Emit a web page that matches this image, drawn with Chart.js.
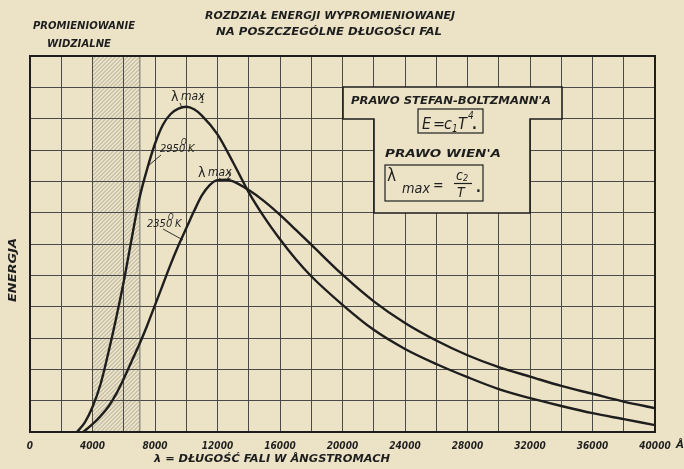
<!DOCTYPE html>
<html>
<head>
<meta charset="utf-8">
<script src="https://cdn.jsdelivr.net/npm/chart.js@4.4.0/dist/chart.umd.min.js"></script>
<style>
  html, body { margin: 0; padding: 0; background: #ebe2c6; }
</style>
</head>
<body>
<canvas id="chart" width="684" height="469"></canvas>
<script>
// curve for 2950°K (the taller one)
const wavelength2950 = [3000, 3500, 4000, 4500, 5000, 5500, 6000, 6500, 7000, 7500, 8000, 8500, 9000, 9500, 10000, 10500, 11000, 12000, 13000, 14000, 15000, 16000, 17000, 18000, 20000, 22000, 24000, 26000, 28000, 30000, 32000, 34000, 36000, 38000, 40000];
const energy2950     = [0, 0.3, 0.8, 1.5, 2.5, 3.6, 4.8, 6.15, 7.45, 8.4, 9.2, 9.8, 10.15, 10.32, 10.38, 10.3, 10.1, 9.5, 8.6, 7.65, 6.85, 6.15, 5.52, 4.97, 4.06, 3.26, 2.65, 2.17, 1.75, 1.37, 1.08, 0.83, 0.6, 0.41, 0.22];

// curve for 2350°K (the flatter one)
const wavelength2350 = [3400, 4000, 4500, 5000, 5500, 6000, 6500, 7000, 7500, 8000, 8500, 9000, 9500, 10000, 10500, 11000, 11500, 12000, 12500, 13000, 14000, 15000, 16000, 17000, 18000, 20000, 22000, 24000, 26000, 28000, 30000, 32000, 34000, 36000, 38000, 40000];
const energy2350     = [0, 0.25, 0.5, 0.8, 1.2, 1.7, 2.25, 2.8, 3.4, 4.05, 4.7, 5.35, 5.95, 6.5, 7.05, 7.55, 7.88, 8.04, 8.05, 8.0, 7.72, 7.36, 6.93, 6.46, 5.98, 5.02, 4.17, 3.48, 2.92, 2.45, 2.07, 1.77, 1.47, 1.22, 0.97, 0.76];

// visible light band (Å)
const visibleBand = [4000, 7000];
const xLabelEvery = 4000;

const PAPER = '#ece3c7';
const INK = '#1e1e1e';
const FONT = '"Liberation Sans Narrow", "DejaVu Sans Condensed", "DejaVu Sans", sans-serif';

const toPoints = (xs, ys) => xs.map((x, i) => ({ x: x, y: ys[i] }));

// squeeze text to a given width so hand lettering lines up
function fitText(ctx, text, cx, y, width) {
  const w = ctx.measureText(text).width;
  ctx.save();
  ctx.translate(cx, y);
  ctx.scale(width / w, 1);
  ctx.textAlign = 'center';
  ctx.fillText(text, 0, 0);
  ctx.restore();
}

const paperPlugin = {
  id: 'paper',
  beforeDraw(chart) {
    const ctx = chart.ctx;
    ctx.save();
    ctx.fillStyle = PAPER;
    ctx.fillRect(0, 0, chart.width, chart.height);
    ctx.restore();
  }
};

const hatchPlugin = {
  id: 'hatch',
  beforeDatasetsDraw(chart) {
    const { ctx, chartArea: a, scales: { x } } = chart;
    const x1 = x.getPixelForValue(visibleBand[0]);
    const x2 = x.getPixelForValue(visibleBand[1]);
    const h = a.bottom - a.top;
    ctx.save();
    ctx.beginPath();
    ctx.rect(x1, a.top, x2 - x1, h);
    ctx.clip();
    ctx.strokeStyle = 'rgba(70,70,70,0.5)';
    ctx.lineWidth = 0.8;
    ctx.beginPath();
    for (let k = -h; k < x2 - x1 + 4; k += 4) {
      ctx.moveTo(x1 + k, a.bottom);
      ctx.lineTo(x1 + k + h, a.top);
    }
    ctx.stroke();
    ctx.restore();
    ctx.save();
    ctx.strokeStyle = '#6a6a6a';
    ctx.lineWidth = 1;
    ctx.beginPath();
    ctx.moveTo(x2 + 0.5, a.top);
    ctx.lineTo(x2 + 0.5, a.bottom);
    ctx.stroke();
    ctx.restore();
  }
};

const notesPlugin = {
  id: 'notes',
  afterDatasetsDraw(chart) {
    const { ctx, chartArea: a } = chart;
    ctx.save();

    // frame
    ctx.strokeStyle = INK;
    ctx.lineWidth = 2;
    ctx.strokeRect(a.left, a.top, a.right - a.left, a.bottom - a.top);

    // T-shaped box with the laws
    ctx.beginPath();
    ctx.moveTo(343, 87);
    ctx.lineTo(562, 87);
    ctx.lineTo(562, 119);
    ctx.lineTo(530, 119);
    ctx.lineTo(530, 213);
    ctx.lineTo(374, 213);
    ctx.lineTo(374, 119);
    ctx.lineTo(343, 119);
    ctx.closePath();
    ctx.fillStyle = PAPER;
    ctx.fill();
    ctx.lineWidth = 1.6;
    ctx.stroke();

    ctx.fillStyle = INK;
    ctx.font = 'italic bold 11px ' + FONT;
    fitText(ctx, "PRAWO STEFAN-BOLTZMANN'A", 451, 104, 200);
    fitText(ctx, "PRAWO WIEN'A", 443, 157, 116);

    ctx.lineWidth = 1.2;
    ctx.strokeRect(418, 109, 65, 24);
    ctx.strokeRect(385, 165, 98, 36);

    ctx.textAlign = 'left';
    ctx.font = 'italic 16px ' + FONT;
    ctx.fillText('E', 422, 129);
    ctx.fillText('=', 433, 129);
    ctx.fillText('c', 444, 129);
    ctx.font = 'italic 10px ' + FONT;
    ctx.fillText('1', 452, 132);
    ctx.font = 'italic 16px ' + FONT;
    ctx.fillText('T', 458, 129);
    ctx.font = 'italic 10px ' + FONT;
    ctx.fillText('4', 468, 119);
    ctx.font = 'bold 14px ' + FONT;
    ctx.fillText('.', 472, 129);

    ctx.font = '17px ' + FONT;
    ctx.fillText('λ', 387, 181);
    ctx.font = 'italic 14px ' + FONT;
    fitText(ctx, 'max', 416, 193, 28);
    ctx.textAlign = 'left';
    ctx.fillText('=', 433, 190);
    ctx.fillText('c', 456, 180);
    ctx.font = 'italic 9px ' + FONT;
    ctx.fillText('2', 463, 181);
    ctx.font = 'italic 14px ' + FONT;
    ctx.fillText('T', 457, 197);
    ctx.font = 'bold 14px ' + FONT;
    ctx.fillText('.', 476, 192);
    ctx.lineWidth = 1.2;
    ctx.beginPath();
    ctx.moveTo(454, 183.5);
    ctx.lineTo(472, 183.5);
    ctx.stroke();

    // curve notes
    ctx.font = '14px ' + FONT;
    ctx.fillText('λ', 171, 101);
    ctx.font = 'italic 12px ' + FONT;
    ctx.fillText('max', 181, 100);
    ctx.font = 'italic 8px ' + FONT;
    ctx.fillText('1', 200, 103);
    ctx.font = '14px ' + FONT;
    ctx.fillText('λ', 198, 177);
    ctx.font = 'italic 12px ' + FONT;
    ctx.fillText('max', 208, 176);
    ctx.font = 'italic 8px ' + FONT;
    ctx.fillText('2', 227, 179);

    ctx.font = 'italic 11px ' + FONT;
    ctx.fillText('2950', 160, 152);
    ctx.fillText('2350', 147, 227);
    ctx.font = 'italic 8px ' + FONT;
    ctx.fillText('O', 181, 145);
    ctx.fillText('O', 168, 220);
    ctx.font = 'italic 11px ' + FONT;
    ctx.fillText('K', 188, 152);
    ctx.fillText('K', 175, 227);

    ctx.lineWidth = 0.9;
    ctx.beginPath();
    ctx.moveTo(161, 155); ctx.lineTo(148, 166);
    ctx.moveTo(163, 229); ctx.lineTo(183, 240);
    ctx.moveTo(180, 103); ctx.lineTo(182, 108);
    ctx.moveTo(219, 178); ctx.lineTo(223, 181);
    ctx.stroke();

    // titles
    ctx.font = 'italic bold 11px ' + FONT;
    fitText(ctx, 'ROZDZIAŁ ENERGJI WYPROMIENIOWANEJ', 330, 19, 250);
    fitText(ctx, 'NA POSZCZEGÓLNE DŁUGOŚCI FAL', 329, 35, 226);
    ctx.font = 'italic bold 10px ' + FONT;
    fitText(ctx, 'PROMIENIOWANIE', 84, 29, 102);
    fitText(ctx, 'WIDZIALNE', 79, 47, 64);

    // axis titles
    ctx.font = 'italic bold 11px ' + FONT;
    fitText(ctx, 'λ = DŁUGOŚĆ FALI W ÅNGSTROMACH', 272, 462, 236);
    ctx.font = 'italic bold 10px ' + FONT;
    fitText(ctx, 'Å', 680, 448, 8);
    ctx.save();
    ctx.translate(16, 270);
    ctx.rotate(-Math.PI / 2);
    ctx.font = 'italic bold 10px ' + FONT;
    fitText(ctx, 'ENERGJA', 0, 0, 64);
    ctx.restore();

    ctx.restore();
  }
};

new Chart(document.getElementById('chart'), {
  type: 'line',
  data: {
    datasets: [
      {
        label: '2950°K',
        data: toPoints(wavelength2950, energy2950),
        borderColor: INK,
        borderWidth: 2.4,
        pointRadius: 0,
        fill: false,
        cubicInterpolationMode: 'monotone'
      },
      {
        label: '2350°K',
        data: toPoints(wavelength2350, energy2350),
        borderColor: INK,
        borderWidth: 2.4,
        pointRadius: 0,
        fill: false,
        cubicInterpolationMode: 'monotone'
      }
    ]
  },
  options: {
    responsive: false,
    animation: false,
    layout: { padding: { left: 30, right: 29, top: 56, bottom: 0 } },
    plugins: {
      legend: { display: false },
      tooltip: { enabled: false }
    },
    scales: {
      x: {
        type: 'linear',
        min: 0,
        max: 40000,
        afterFit: s => { s.height = 37; },
        ticks: {
          stepSize: 2000,
          autoSkip: false,
          maxRotation: 0,
          padding: 8,
          color: INK,
          font: { family: FONT, size: 10, style: 'italic', weight: 'bold' },
          callback: v => (v % xLabelEvery === 0 ? String(v) : '')
        },
        grid: { color: '#4a4a4a', lineWidth: 1, drawTicks: false },
        border: { color: INK, width: 2 }
      },
      y: {
        min: 0,
        max: 12,
        afterFit: s => { s.width = 0; },
        ticks: { display: false, stepSize: 1 },
        grid: { color: '#4a4a4a', lineWidth: 1, drawTicks: false },
        border: { color: INK, width: 2 }
      }
    }
  },
  plugins: [paperPlugin, hatchPlugin, notesPlugin]
});
</script>
</body>
</html>
